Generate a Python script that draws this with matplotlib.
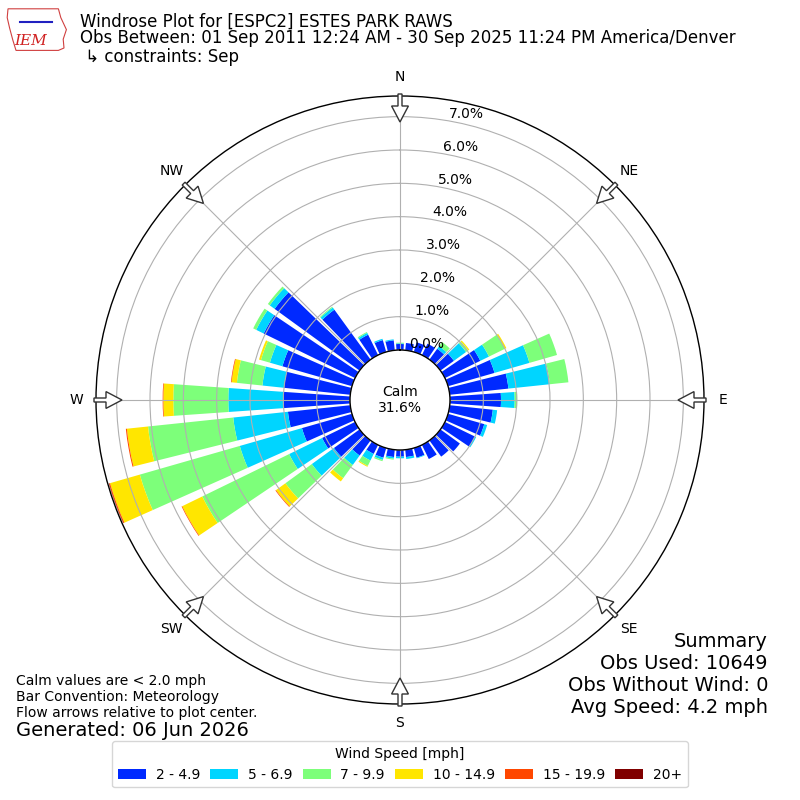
import numpy as np
import matplotlib
matplotlib.use("Agg")
import matplotlib.pyplot as plt
from matplotlib.patches import FancyArrow, Patch, Polygon

# ---------------- data ----------------
directions = list(range(0, 360, 10))
bin_labels = ["2 - 4.9", "5 - 6.9", "7 - 9.9", "10 - 14.9", "15 - 19.9", "20+"]

# frequency [%] per direction (0, 10, ..., 350) for each speed bin
speed_2_5 = [0.18, 0.22, 0.30, 0.38, 0.40, 0.50, 1.18, 1.45, 1.77, 1.53,
             1.30, 1.13, 1.00, 0.72, 0.60, 0.47, 0.30, 0.22, 0.20, 0.22,
             0.30, 0.30, 0.56, 0.95, 1.10, 1.56, 1.88, 2.00, 2.00, 2.17,
             3.05, 3.15, 1.85, 0.68, 0.37, 0.30]
speed_5_7 = [0.02, 0.00, 0.00, 0.00, 0.10, 0.45, 0.29, 1.09, 1.25, 0.41,
             0.13, 0.09, 0.04, 0.00, 0.00, 0.00, 0.02, 0.06, 0.05, 0.05,
             0.07, 0.22, 0.35, 0.82, 1.10, 1.94, 1.65, 1.65, 0.65, 0.39,
             0.25, 0.18, 0.08, 0.06, 0.04, 0.03]
speed_7_10 = [0.02, 0.00, 0.00, 0.00, 0.15, 0.08, 0.53, 0.86, 0.56, 0.08,
              0.00, 0.00, 0.00, 0.00, 0.00, 0.00, 0.00, 0.00, 0.00, 0.03,
              0.04, 0.18, 0.49, 0.98, 2.90, 3.12, 2.57, 1.65, 0.77, 0.28,
              0.10, 0.07, 0.03, 0.03, 0.00, 0.00]
speed_10_15 = [0.00, 0.00, 0.00, 0.00, 0.00, 0.04, 0.05, 0.00, 0.00, 0.00,
               0.00, 0.00, 0.00, 0.00, 0.00, 0.00, 0.00, 0.00, 0.00, 0.00,
               0.00, 0.03, 0.12, 0.35, 0.67, 0.93, 0.64, 0.30, 0.16, 0.06,
               0.00, 0.00, 0.00, 0.00, 0.00, 0.00]
speed_15_20 = [0.00] * 23 + [0.02, 0.02, 0.03, 0.03, 0.02, 0.02] + [0.00] * 7
speed_20p = [0.00] * 25 + [0.01] + [0.00] * 10
series = [speed_2_5, speed_5_7, speed_7_10, speed_10_15, speed_15_20, speed_20p]

calm_pct = 31.6
rticks = [0, 1, 2, 3, 4, 5, 6, 7]
compass = ["N", "NE", "E", "SE", "S", "SW", "W", "NW"]
compass_deg = [0, 45, 90, 135, 180, 225, 270, 315]

title_lines = ["Windrose Plot for [ESPC2] ESTES PARK RAWS",
               "Obs Between: 01 Sep 2011 12:24 AM - 30 Sep 2025 11:24 PM America/Denver",
               " \u21b3 constraints: Sep"]
summary_lines = ["Summary", "Obs Used: 10649", "Obs Without Wind: 0",
                 "Avg Speed: 4.2 mph"]
note_lines = ["Calm values are < 2.0 mph", "Bar Convention: Meteorology",
              "Flow arrows relative to plot center."]
generated = "Generated: 06 Jun 2026"

# ---------------- plot ----------------
plt.rcParams["font.family"] = ["DejaVu Sans"]
fig = plt.figure(figsize=(8, 8), dpi=100)
ax = fig.add_axes([0.12, 0.12, 0.76, 0.76], projection="polar")
ax.set_theta_zero_location("N")
ax.set_theta_direction(-1)

colors = plt.get_cmap("jet")(np.linspace(0, 1, 7))[1:]
theta = np.deg2rad(directions)
bottom = np.zeros(len(directions))
for vals, c in zip(series, colors):
    vals = np.asarray(vals)
    ax.bar(theta, vals, width=np.deg2rad(8), bottom=bottom, color=c,
           linewidth=0, align="center", zorder=1)
    bottom = bottom + vals

ax.set_ylim(0, 7.62)
ax.set_rorigin(-1.5)
ax.set_yticks(rticks)
ax.set_yticklabels([f"{v:.1f}%" for v in rticks], fontsize=10)
ax.set_rlabel_position(10)
ax.set_xticks(np.deg2rad(compass_deg))
ax.set_xticklabels(compass, fontsize=10)
ax.tick_params(axis="x", pad=3.5)
ax.grid(True, color="#b0b0b0", linewidth=0.8)
for name, sp in ax.spines.items():
    sp.set_color("black")
    sp.set_linewidth(1.0)

ax.text(0.5, 0.5, f"Calm\n{calm_pct:.1f}%", transform=ax.transAxes,
        ha="center", va="center", fontsize=10)

# flow arrows at the rim
for d in compass_deg:
    a = np.deg2rad(d)
    r0, r1 = 0.3825, 0.3475
    x0, y0 = 0.5 + r0 * np.sin(a), 0.5 + r0 * np.cos(a)
    dx, dy = (r1 - r0) * np.sin(a), (r1 - r0) * np.cos(a)
    arr = FancyArrow(x0, y0, dx, dy, width=0.005, head_width=0.021,
                     head_length=0.02, length_includes_head=True,
                     transform=fig.transFigure, facecolor="white",
                     edgecolor="#333333", linewidth=1.0, zorder=10)
    fig.add_artist(arr)

# titles
for line, yb in zip(title_lines, [0.9667, 0.9459, 0.9229]):
    fig.text(0.1, yb, line, fontsize=12, va="baseline", ha="left")

# logo approximation
logo = Polygon([[0.010, 0.989], [0.073, 0.989], [0.076, 0.978], [0.083, 0.963],
                [0.079, 0.951], [0.080, 0.940], [0.073, 0.937], [0.020, 0.937],
                [0.016, 0.950], [0.012, 0.965], [0.009, 0.978]],
               closed=True, transform=fig.transFigure, fill=False,
               edgecolor="#d04040", linewidth=0.8)
fig.add_artist(logo)
fig.add_artist(plt.Line2D([0.025, 0.065], [0.973, 0.973], color="#2020c0",
                          linewidth=1.5, transform=fig.transFigure))
fig.text(0.038, 0.944, "IEM", fontsize=11, color="#d02020",
         family="DejaVu Serif", style="italic", ha="center", va="baseline")

# summary
for line, yb in zip(summary_lines, [0.19125, 0.16375, 0.13625, 0.10875]):
    fig.text(0.96, yb, line, fontsize=14, ha="right", va="baseline")

for line, yb in zip(note_lines, [0.1435, 0.1235, 0.1035]):
    fig.text(0.02, yb, line, fontsize=10, ha="left", va="baseline")
fig.text(0.02, 0.080, generated, fontsize=14, ha="left", va="baseline")

handles = [Patch(facecolor=c, edgecolor="none") for c in colors]
fig.legend(handles, bin_labels, loc="lower center", bbox_to_anchor=(0.5, 0.007),
           ncol=6, title="Wind Speed [mph]", fontsize=10, title_fontsize=10,
           columnspacing=0.75, handletextpad=0.7)

fig.savefig("out.png", dpi=100)
